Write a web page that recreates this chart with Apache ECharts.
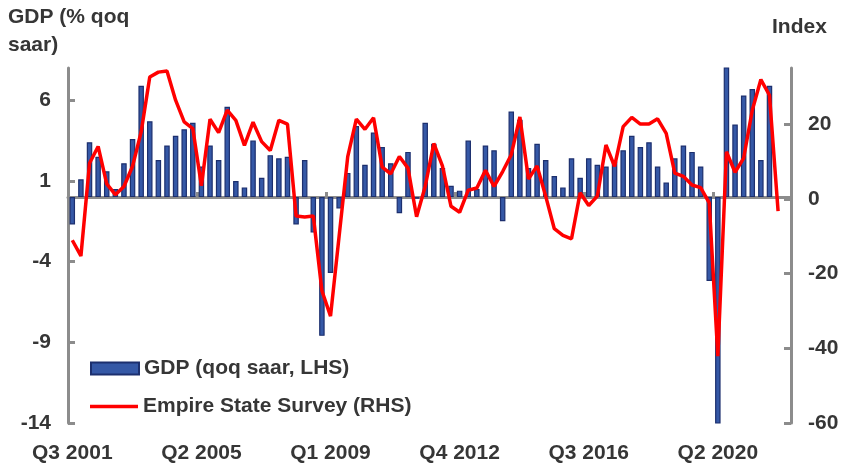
<!DOCTYPE html>
<html>
<head>
<meta charset="utf-8">
<script src="https://cdn.jsdelivr.net/npm/echarts@6/dist/echarts.min.js"></script>
<style>
html,body{margin:0;padding:0;background:#fff;}
#chart{width:863px;height:464px;}
</style>
</head>
<body>
<div id="chart"></div>
<script>
// Quarters Q3 2001 .. Q2 2022
const firstYear = 2001, firstQuarter = 3, quarterCount = 84;
const categories = [];
for (let i = 0; i < quarterCount; i++) {
  const q = (firstQuarter - 1 + i) % 4 + 1;
  const y = firstYear + Math.floor((firstQuarter - 1 + i) / 4);
  categories.push('Q' + q + ' ' + y);
}

// GDP, % qoq saar (LHS)
const gdp = [
  -1.7, 1.1, 3.4, 2.5, 1.6, 0.5, 2.1, 3.6, 6.9, 4.7,
  2.3, 3.2, 3.8, 4.2, 4.6, 1.9, 3.2, 2.3, 5.6, 1.0,
  0.6, 3.5, 1.2, 2.6, 2.4, 2.5, -1.7, 2.3, -2.2, -8.6,
  -4.7, -0.7, 1.5, 4.4, 2.0, 4.0, 3.1, 2.1, -1.0, 2.8,
  -0.1, 4.6, 3.3, 1.8, 0.7, 0.4, 3.5, 0.5, 3.2, 2.9,
  -1.5, 5.3, 4.8, 1.8, 3.3, 2.3, 1.3, 0.6, 2.4, 1.2,
  2.4, 2.0, 1.9, 2.2, 2.9, 3.8, 3.1, 3.4, 1.9, 0.9,
  2.4, 3.2, 2.8, 1.9, -5.2, -31.2, 33.8, 4.5, 6.3, 6.7,
  2.3, 6.9, null, null
];

// Empire State Survey, index (RHS)
const empire = [
  -11.1, -15.3, 9.5, 14.0, 4.0, 1.1, 3.3, 8.7, 17.9, 32.6,
  33.9, 34.2, 26.4, 20.6, 18.8, 3.5, 21.3, 17.7, 23.7, 21.0,
  14.3, 20.5, 15.3, 12.9, 21.0, 20.0, -4.6, -4.9, -4.6, -24.6,
  -31.4, -10.0, 11.3, 21.3, 18.6, 21.7, 8.5, 6.7, 11.3, 8.2,
  -4.8, 3.3, 14.8, 8.8, -2.0, -3.6, 2.3, 2.9, 7.6, 3.3,
  7.3, 11.8, 21.9, 5.3, 8.8, 0.7, -8.0, -9.8, -10.7, 1.6,
  -1.8, 0.7, 14.4, 8.7, 19.3, 21.8, 20.0, 20.0, 21.4, 17.5,
  6.9, 6.0, 3.7, 3.0, -1.1, -42.1, 12.6, 7.1, 10.9, 23.7,
  31.9, 27.7, -3.3, null
];

const leftTicks = [-14, -9, -4, 1, 6];
const rightTicks = [-60, -40, -20, 0, 20];

const FONT = 'Liberation Sans, Arial, sans-serif';
const FS = 21;
const TXT = '#363636';
const AX = '#8c8c8c';

const chart = echarts.init(document.getElementById('chart'), null, {renderer: 'canvas'});
chart.setOption({
  animation: false,
  backgroundColor: '#ffffff',
  grid: {left: 68, right: 72, top: 68, bottom: 41, containLabel: false},
  legend: [
    {
      data: ['GDP (qoq saar, LHS)'],
      left: 85, top: 353, icon: 'rect', itemWidth: 48, itemHeight: 12,
      textStyle: {fontFamily: FONT, fontSize: FS, fontWeight: 'bold', color: TXT}
    },
    {
      data: [{name: 'Empire State Survey (RHS)', icon: 'rect'}],
      left: 85, top: 391, itemWidth: 48, itemHeight: 3.5,
      textStyle: {fontFamily: FONT, fontSize: FS, fontWeight: 'bold', color: TXT}
    }
  ],
  xAxis: [
    {
      type: 'category', data: categories, boundaryGap: true,
      axisLine: {show: false}, axisTick: {show: false},
      axisLabel: {interval: 14, margin: 20, fontFamily: FONT, fontSize: FS, fontWeight: 'bold', color: TXT},
      splitLine: {show: false}
    },
    {
      type: 'category', data: categories, boundaryGap: true, position: 'bottom',
      axisLine: {show: true, onZero: true, onZeroAxisIndex: 0, lineStyle: {color: AX, width: 3}},
      axisTick: {show: true, inside: true, interval: 14, length: 5, lineStyle: {color: AX, width: 3}},
      axisLabel: {show: false},
      splitLine: {show: false},
      z: 1
    }
  ],
  yAxis: [
    {
      type: 'value', min: -14, max: 8, interval: 5, position: 'left',
      axisLine: {show: true, lineStyle: {color: AX, width: 3}},
      axisTick: {show: true, inside: true, length: 7, lineStyle: {color: AX, width: 3}, customValues: leftTicks},
      axisLabel: {margin: 17, customValues: leftTicks, fontFamily: FONT, fontSize: FS, fontWeight: 'bold', color: TXT},
      splitLine: {show: false}
    },
    {
      type: 'value', min: -60, max: 35, interval: 20, position: 'right',
      axisLine: {show: true, lineStyle: {color: AX, width: 3}},
      axisTick: {show: true, inside: true, length: 7, lineStyle: {color: AX, width: 3}, customValues: rightTicks},
      axisLabel: {margin: 17, customValues: rightTicks, fontFamily: FONT, fontSize: FS, fontWeight: 'bold', color: TXT},
      splitLine: {show: false}
    }
  ],
  series: [
    {
      name: 'GDP (qoq saar, LHS)', type: 'bar', data: gdp,
      xAxisIndex: 0, yAxisIndex: 0, barWidth: 5.5, clip: true,
      itemStyle: {color: '#3558a6', borderColor: '#1c2f6e', borderWidth: 1.2},
      z: 2
    },
    {
      name: 'Empire State Survey (RHS)', type: 'line', data: empire,
      xAxisIndex: 0, yAxisIndex: 1, symbol: 'none', showSymbol: false,
      lineStyle: {color: '#ff0000', width: 3.5}, itemStyle: {color: '#ff0000'},
      z: 5
    }
  ],
  graphic: [
    {type: 'text', left: 8, top: 7, style: {text: 'GDP (% qoq', font: 'bold ' + FS + 'px ' + FONT, fill: TXT}},
    {type: 'text', left: 8, top: 35, style: {text: 'saar)', font: 'bold ' + FS + 'px ' + FONT, fill: TXT}},
    {type: 'text', left: 772, top: 17, style: {text: 'Index', font: 'bold ' + FS + 'px ' + FONT, fill: TXT}}
  ]
});
</script>
</body>
</html>
